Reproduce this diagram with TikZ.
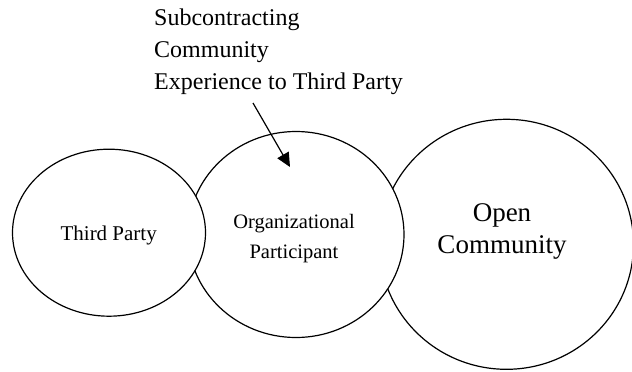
\documentclass[tikz,border=0pt]{standalone}
\usepackage{fontspec}
\setmainfont{Liberation Serif}
\usetikzlibrary{arrows.meta}
\begin{document}
\begin{tikzpicture}[x=1pt,y=-1pt,
  ring/.style={draw=black,fill=white,line width=1.2pt},
  lbl/.style={inner sep=0pt,align=center},
  pointer/.style={line width=1.2pt,-{Triangle[length=14pt,width=13pt]}}]
\useasboundingbox (0,0) rectangle (632,372);
% circles: drawn back to front so overlaps hide arcs
\path[ring] (506.5,244.3) ellipse [x radius=127, y radius=125];
\path[ring] (296,234.5) ellipse [x radius=108, y radius=103];
\path[ring] (109,232.7) ellipse [x radius=96.5, y radius=83.5];
\node[lbl,anchor=base,font=\fontsize{21}{26}\selectfont] (tp) at (108.7,240) {Third Party};
\node[lbl,anchor=base,font=\fontsize{20.5}{30}\selectfont] (op) at (294,258) {Organizational\\Participant};
\node[lbl,anchor=base,font=\fontsize{27}{31.5}\selectfont] (oc) at (502,253) {Open\\Community};
\node[inner sep=0pt,align=left,anchor=base west,font=\fontsize{24}{32}\selectfont] (sub) at (154,89) {Subcontracting\\Community\\Experience to Third Party};
\coordinate (as) at (253,103);
\coordinate (ae) at (290,167);
\draw[pointer] (as) -- (ae);
\end{tikzpicture}
\end{document}
